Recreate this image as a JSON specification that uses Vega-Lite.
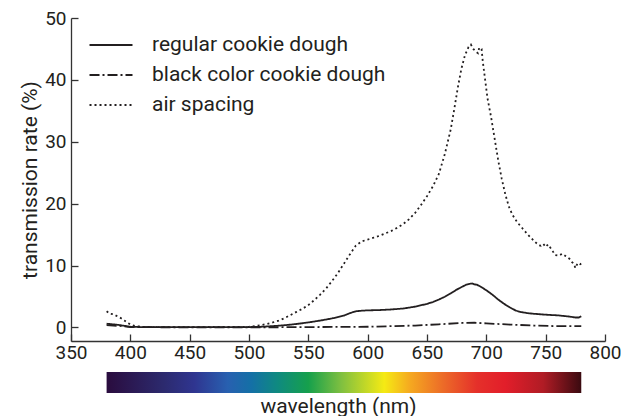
{
  "$schema": "https://vega.github.io/schema/vega-lite/v6.json",
  "background": "white",
  "padding": {"left": 19, "top": 9, "right": 5, "bottom": 0},
  "spacing": 10,
  "config": {
    "view": {"stroke": null},
    "font": "Roboto",
    "axis": {
      "grid": false,
      "domainColor": "#333333",
      "domainWidth": 1.3,
      "tickColor": "#333333",
      "tickWidth": 1.3,
      "labelColor": "#231f20",
      "labelFont": "Roboto",
      "labelFontSize": 19,
      "titleFont": "Roboto",
      "titleFontSize": 21,
      "titleFontWeight": "normal",
      "titleColor": "#231f20"
    }
  },
  "datasets": {
    "spectra": [
      {"wavelength": 380, "transmission": 0.6, "sample": "regular cookie dough"},
      {"wavelength": 385, "transmission": 0.5, "sample": "regular cookie dough"},
      {"wavelength": 390, "transmission": 0.4, "sample": "regular cookie dough"},
      {"wavelength": 395, "transmission": 0.25, "sample": "regular cookie dough"},
      {"wavelength": 400, "transmission": 0.1, "sample": "regular cookie dough"},
      {"wavelength": 410, "transmission": 0.05, "sample": "regular cookie dough"},
      {"wavelength": 450, "transmission": 0.03, "sample": "regular cookie dough"},
      {"wavelength": 500, "transmission": 0.05, "sample": "regular cookie dough"},
      {"wavelength": 510, "transmission": 0.1, "sample": "regular cookie dough"},
      {"wavelength": 520, "transmission": 0.2, "sample": "regular cookie dough"},
      {"wavelength": 530, "transmission": 0.35, "sample": "regular cookie dough"},
      {"wavelength": 540, "transmission": 0.55, "sample": "regular cookie dough"},
      {"wavelength": 550, "transmission": 0.8, "sample": "regular cookie dough"},
      {"wavelength": 560, "transmission": 1.1, "sample": "regular cookie dough"},
      {"wavelength": 570, "transmission": 1.45, "sample": "regular cookie dough"},
      {"wavelength": 580, "transmission": 1.9, "sample": "regular cookie dough"},
      {"wavelength": 585, "transmission": 2.3, "sample": "regular cookie dough"},
      {"wavelength": 590, "transmission": 2.6, "sample": "regular cookie dough"},
      {"wavelength": 595, "transmission": 2.7, "sample": "regular cookie dough"},
      {"wavelength": 600, "transmission": 2.75, "sample": "regular cookie dough"},
      {"wavelength": 610, "transmission": 2.8, "sample": "regular cookie dough"},
      {"wavelength": 620, "transmission": 2.9, "sample": "regular cookie dough"},
      {"wavelength": 630, "transmission": 3.05, "sample": "regular cookie dough"},
      {"wavelength": 640, "transmission": 3.35, "sample": "regular cookie dough"},
      {"wavelength": 650, "transmission": 3.8, "sample": "regular cookie dough"},
      {"wavelength": 655, "transmission": 4.1, "sample": "regular cookie dough"},
      {"wavelength": 660, "transmission": 4.5, "sample": "regular cookie dough"},
      {"wavelength": 665, "transmission": 4.95, "sample": "regular cookie dough"},
      {"wavelength": 670, "transmission": 5.5, "sample": "regular cookie dough"},
      {"wavelength": 675, "transmission": 6.1, "sample": "regular cookie dough"},
      {"wavelength": 680, "transmission": 6.6, "sample": "regular cookie dough"},
      {"wavelength": 683, "transmission": 6.9, "sample": "regular cookie dough"},
      {"wavelength": 686, "transmission": 7.05, "sample": "regular cookie dough"},
      {"wavelength": 688, "transmission": 7.1, "sample": "regular cookie dough"},
      {"wavelength": 690, "transmission": 6.95, "sample": "regular cookie dough"},
      {"wavelength": 692, "transmission": 6.9, "sample": "regular cookie dough"},
      {"wavelength": 695, "transmission": 6.6, "sample": "regular cookie dough"},
      {"wavelength": 700, "transmission": 6.0, "sample": "regular cookie dough"},
      {"wavelength": 705, "transmission": 5.3, "sample": "regular cookie dough"},
      {"wavelength": 710, "transmission": 4.5, "sample": "regular cookie dough"},
      {"wavelength": 715, "transmission": 3.8, "sample": "regular cookie dough"},
      {"wavelength": 720, "transmission": 3.2, "sample": "regular cookie dough"},
      {"wavelength": 725, "transmission": 2.7, "sample": "regular cookie dough"},
      {"wavelength": 730, "transmission": 2.45, "sample": "regular cookie dough"},
      {"wavelength": 735, "transmission": 2.3, "sample": "regular cookie dough"},
      {"wavelength": 740, "transmission": 2.2, "sample": "regular cookie dough"},
      {"wavelength": 750, "transmission": 2.05, "sample": "regular cookie dough"},
      {"wavelength": 760, "transmission": 1.95, "sample": "regular cookie dough"},
      {"wavelength": 765, "transmission": 1.85, "sample": "regular cookie dough"},
      {"wavelength": 770, "transmission": 1.75, "sample": "regular cookie dough"},
      {"wavelength": 775, "transmission": 1.6, "sample": "regular cookie dough"},
      {"wavelength": 778, "transmission": 1.6, "sample": "regular cookie dough"},
      {"wavelength": 780, "transmission": 1.8, "sample": "regular cookie dough"},

      {"wavelength": 380, "transmission": 0.35, "sample": "black color cookie dough"},
      {"wavelength": 390, "transmission": 0.25, "sample": "black color cookie dough"},
      {"wavelength": 400, "transmission": 0.05, "sample": "black color cookie dough"},
      {"wavelength": 450, "transmission": 0.0, "sample": "black color cookie dough"},
      {"wavelength": 500, "transmission": 0.0, "sample": "black color cookie dough"},
      {"wavelength": 550, "transmission": 0.05, "sample": "black color cookie dough"},
      {"wavelength": 600, "transmission": 0.1, "sample": "black color cookie dough"},
      {"wavelength": 640, "transmission": 0.3, "sample": "black color cookie dough"},
      {"wavelength": 660, "transmission": 0.5, "sample": "black color cookie dough"},
      {"wavelength": 680, "transmission": 0.72, "sample": "black color cookie dough"},
      {"wavelength": 690, "transmission": 0.75, "sample": "black color cookie dough"},
      {"wavelength": 700, "transmission": 0.65, "sample": "black color cookie dough"},
      {"wavelength": 720, "transmission": 0.45, "sample": "black color cookie dough"},
      {"wavelength": 740, "transmission": 0.3, "sample": "black color cookie dough"},
      {"wavelength": 760, "transmission": 0.2, "sample": "black color cookie dough"},
      {"wavelength": 780, "transmission": 0.2, "sample": "black color cookie dough"},

      {"wavelength": 380, "transmission": 2.6, "sample": "air spacing"},
      {"wavelength": 383, "transmission": 2.2, "sample": "air spacing"},
      {"wavelength": 386, "transmission": 2.1, "sample": "air spacing"},
      {"wavelength": 389, "transmission": 1.8, "sample": "air spacing"},
      {"wavelength": 392, "transmission": 1.5, "sample": "air spacing"},
      {"wavelength": 395, "transmission": 1.1, "sample": "air spacing"},
      {"wavelength": 398, "transmission": 0.7, "sample": "air spacing"},
      {"wavelength": 401, "transmission": 0.4, "sample": "air spacing"},
      {"wavelength": 405, "transmission": 0.2, "sample": "air spacing"},
      {"wavelength": 410, "transmission": 0.1, "sample": "air spacing"},
      {"wavelength": 420, "transmission": 0.05, "sample": "air spacing"},
      {"wavelength": 460, "transmission": 0.05, "sample": "air spacing"},
      {"wavelength": 500, "transmission": 0.1, "sample": "air spacing"},
      {"wavelength": 505, "transmission": 0.2, "sample": "air spacing"},
      {"wavelength": 510, "transmission": 0.35, "sample": "air spacing"},
      {"wavelength": 515, "transmission": 0.55, "sample": "air spacing"},
      {"wavelength": 520, "transmission": 0.8, "sample": "air spacing"},
      {"wavelength": 525, "transmission": 1.1, "sample": "air spacing"},
      {"wavelength": 530, "transmission": 1.5, "sample": "air spacing"},
      {"wavelength": 535, "transmission": 2.0, "sample": "air spacing"},
      {"wavelength": 540, "transmission": 2.5, "sample": "air spacing"},
      {"wavelength": 545, "transmission": 3.0, "sample": "air spacing"},
      {"wavelength": 550, "transmission": 3.6, "sample": "air spacing"},
      {"wavelength": 555, "transmission": 4.4, "sample": "air spacing"},
      {"wavelength": 560, "transmission": 5.3, "sample": "air spacing"},
      {"wavelength": 565, "transmission": 6.3, "sample": "air spacing"},
      {"wavelength": 570, "transmission": 7.5, "sample": "air spacing"},
      {"wavelength": 575, "transmission": 8.8, "sample": "air spacing"},
      {"wavelength": 580, "transmission": 10.3, "sample": "air spacing"},
      {"wavelength": 585, "transmission": 11.8, "sample": "air spacing"},
      {"wavelength": 590, "transmission": 13.2, "sample": "air spacing"},
      {"wavelength": 595, "transmission": 13.9, "sample": "air spacing"},
      {"wavelength": 600, "transmission": 14.2, "sample": "air spacing"},
      {"wavelength": 605, "transmission": 14.5, "sample": "air spacing"},
      {"wavelength": 610, "transmission": 14.8, "sample": "air spacing"},
      {"wavelength": 615, "transmission": 15.2, "sample": "air spacing"},
      {"wavelength": 620, "transmission": 15.6, "sample": "air spacing"},
      {"wavelength": 625, "transmission": 16.1, "sample": "air spacing"},
      {"wavelength": 630, "transmission": 16.7, "sample": "air spacing"},
      {"wavelength": 635, "transmission": 17.5, "sample": "air spacing"},
      {"wavelength": 640, "transmission": 18.5, "sample": "air spacing"},
      {"wavelength": 645, "transmission": 19.8, "sample": "air spacing"},
      {"wavelength": 650, "transmission": 21.2, "sample": "air spacing"},
      {"wavelength": 655, "transmission": 22.8, "sample": "air spacing"},
      {"wavelength": 660, "transmission": 24.8, "sample": "air spacing"},
      {"wavelength": 665, "transmission": 28.0, "sample": "air spacing"},
      {"wavelength": 670, "transmission": 32.0, "sample": "air spacing"},
      {"wavelength": 673, "transmission": 35.3, "sample": "air spacing"},
      {"wavelength": 676, "transmission": 38.8, "sample": "air spacing"},
      {"wavelength": 679, "transmission": 41.8, "sample": "air spacing"},
      {"wavelength": 682, "transmission": 44.0, "sample": "air spacing"},
      {"wavelength": 685, "transmission": 45.3, "sample": "air spacing"},
      {"wavelength": 687, "transmission": 45.7, "sample": "air spacing"},
      {"wavelength": 689, "transmission": 45.0, "sample": "air spacing"},
      {"wavelength": 691, "transmission": 44.6, "sample": "air spacing"},
      {"wavelength": 693, "transmission": 44.3, "sample": "air spacing"},
      {"wavelength": 694, "transmission": 45.2, "sample": "air spacing"},
      {"wavelength": 696, "transmission": 45.0, "sample": "air spacing"},
      {"wavelength": 697, "transmission": 43.0, "sample": "air spacing"},
      {"wavelength": 699, "transmission": 40.0, "sample": "air spacing"},
      {"wavelength": 701, "transmission": 37.0, "sample": "air spacing"},
      {"wavelength": 704, "transmission": 34.0, "sample": "air spacing"},
      {"wavelength": 707, "transmission": 30.5, "sample": "air spacing"},
      {"wavelength": 710, "transmission": 27.0, "sample": "air spacing"},
      {"wavelength": 713, "transmission": 24.0, "sample": "air spacing"},
      {"wavelength": 716, "transmission": 21.5, "sample": "air spacing"},
      {"wavelength": 719, "transmission": 19.5, "sample": "air spacing"},
      {"wavelength": 722, "transmission": 18.2, "sample": "air spacing"},
      {"wavelength": 726, "transmission": 17.0, "sample": "air spacing"},
      {"wavelength": 730, "transmission": 16.1, "sample": "air spacing"},
      {"wavelength": 735, "transmission": 15.0, "sample": "air spacing"},
      {"wavelength": 740, "transmission": 14.0, "sample": "air spacing"},
      {"wavelength": 744, "transmission": 13.3, "sample": "air spacing"},
      {"wavelength": 746, "transmission": 13.2, "sample": "air spacing"},
      {"wavelength": 748, "transmission": 13.5, "sample": "air spacing"},
      {"wavelength": 750, "transmission": 13.0, "sample": "air spacing"},
      {"wavelength": 752, "transmission": 13.4, "sample": "air spacing"},
      {"wavelength": 755, "transmission": 12.6, "sample": "air spacing"},
      {"wavelength": 758, "transmission": 11.7, "sample": "air spacing"},
      {"wavelength": 761, "transmission": 11.6, "sample": "air spacing"},
      {"wavelength": 764, "transmission": 11.9, "sample": "air spacing"},
      {"wavelength": 767, "transmission": 11.5, "sample": "air spacing"},
      {"wavelength": 770, "transmission": 11.1, "sample": "air spacing"},
      {"wavelength": 772, "transmission": 10.6, "sample": "air spacing"},
      {"wavelength": 774, "transmission": 10.2, "sample": "air spacing"},
      {"wavelength": 775, "transmission": 9.6, "sample": "air spacing"},
      {"wavelength": 777, "transmission": 10.4, "sample": "air spacing"},
      {"wavelength": 779, "transmission": 10.2, "sample": "air spacing"},
      {"wavelength": 780, "transmission": 10.3, "sample": "air spacing"}
    ],
    "band": [{"start": 380, "end": 780}]
  },
  "vconcat": [
    {
      "width": 534,
      "height": 323,
      "data": {"name": "spectra"},
      "mark": {"type": "line", "strokeWidth": 1.8, "color": "#231f20", "clip": true},
      "encoding": {
        "x": {
          "field": "wavelength",
          "type": "quantitative",
          "scale": {"domain": [350, 800], "nice": false, "zero": false},
          "axis": {"title": null, "values": [350, 400, 450, 500, 550, 600, 650, 700, 750, 800], "tickSize": -7, "labelPadding": 9, "labelFlush": false}
        },
        "y": {
          "field": "transmission",
          "type": "quantitative",
          "scale": {"domain": [-2.2, 50], "nice": false, "zero": false},
          "axis": {"title": "transmission rate (%)", "values": [0, 10, 20, 30, 40, 50], "tickSize": -7, "labelPadding": 12, "titlePadding": 4, "labelFlush": false}
        },
        "strokeDash": {
          "field": "sample",
          "type": "nominal",
          "scale": {
            "domain": ["regular cookie dough", "black color cookie dough", "air spacing"],
            "range": [[1, 0], [10, 3, 2, 3], [2, 3]]
          },
          "legend": {
            "title": null,
            "orient": "none",
            "legendX": 28,
            "legendY": 15,
            "padding": 0,
            "symbolType": "M-2,0H2",
            "symbolSize": 462,
            "symbolStrokeWidth": 1.8,
            "symbolStrokeColor": "#231f20",
            "symbolFillColor": "transparent",
            "labelFontSize": 21,
            "labelFont": "Roboto",
            "labelColor": "#231f20",
            "labelOffset": 29,
            "rowPadding": 8,
            "labelLimit": 400
          }
        }
      }
    },
    {
      "width": 534,
      "height": 21,
      "data": {"name": "band"},
      "mark": {
        "type": "rect",
        "fill": {
          "gradient": "linear",
          "x1": 0, "y1": 0, "x2": 1, "y2": 0,
          "stops": [
            {"offset": 0.0, "color": "#2a0c3e"},
            {"offset": 0.12, "color": "#2c2a6e"},
            {"offset": 0.185, "color": "#2f3590"},
            {"offset": 0.255, "color": "#2860b0"},
            {"offset": 0.305, "color": "#1470a6"},
            {"offset": 0.36, "color": "#0f8a80"},
            {"offset": 0.425, "color": "#16a04c"},
            {"offset": 0.495, "color": "#80c040"},
            {"offset": 0.585, "color": "#f5ea14"},
            {"offset": 0.64, "color": "#f5a820"},
            {"offset": 0.71, "color": "#ec6a28"},
            {"offset": 0.78, "color": "#e5302a"},
            {"offset": 0.84, "color": "#e21e2a"},
            {"offset": 0.92, "color": "#b01c25"},
            {"offset": 1.0, "color": "#3a0a10"}
          ]
        }
      },
      "encoding": {
        "x": {
          "field": "start",
          "type": "quantitative",
          "scale": {"domain": [350, 800], "nice": false, "zero": false},
          "axis": {"title": "wavelength (nm)", "domain": false, "ticks": false, "labels": false, "titlePadding": 2}
        },
        "x2": {"field": "end"}
      }
    }
  ]
}
